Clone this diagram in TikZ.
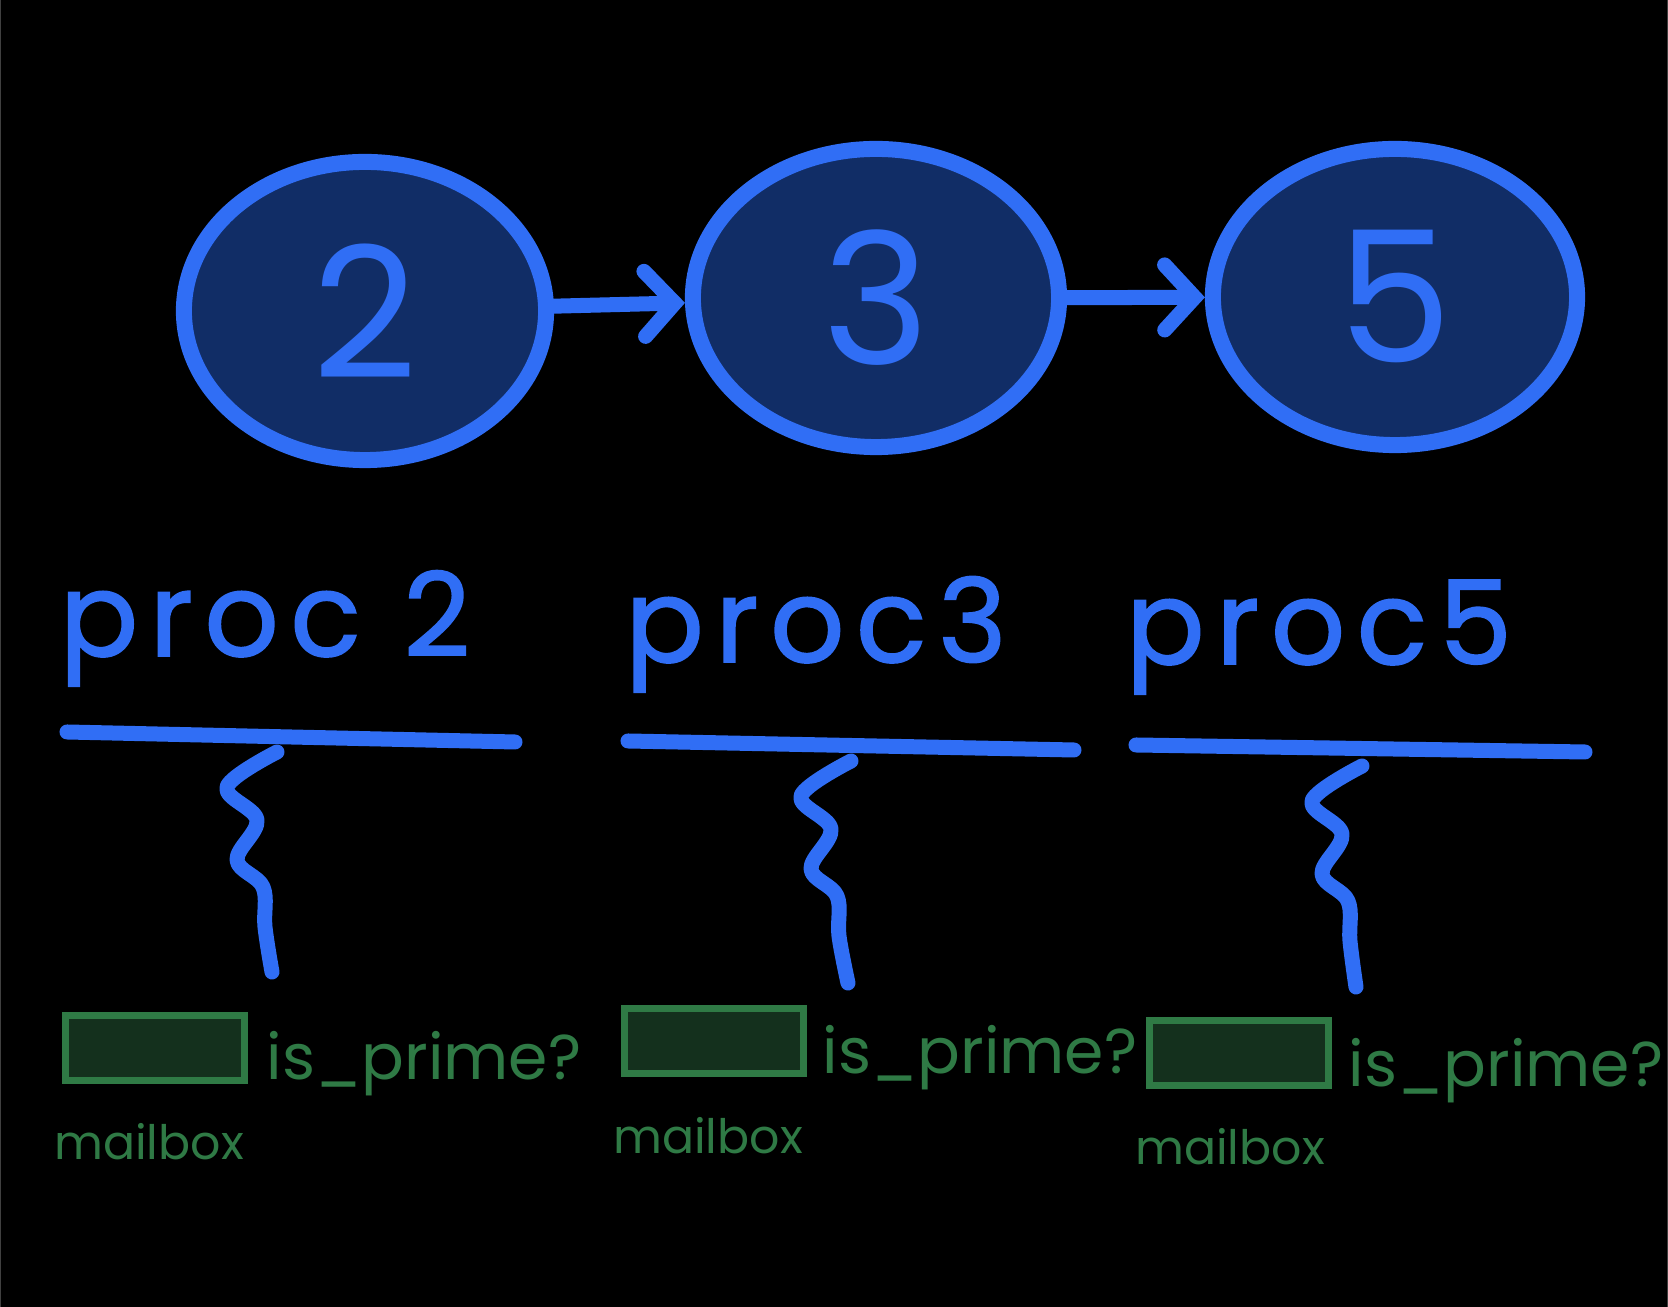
\documentclass[tikz,border=0pt]{standalone}
\usepackage{fontspec}
\setmainfont{Poppins}
\usetikzlibrary{shapes.geometric,arrows.meta,positioning}

\definecolor{penblue}{RGB}{48,110,245}
\definecolor{navyfill}{RGB}{17,45,102}
\definecolor{pengreen}{RGB}{47,122,69}
\definecolor{boxfill}{RGB}{20,48,29}

\tikzset{
  procball/.style={ellipse, draw=penblue, fill=navyfill, line width=0.16cm,
    inner sep=0pt, text=penblue, font=\fontsize{52}{52}\selectfont},
  sendline/.style={draw=penblue, line width=0.15cm, line cap=round,
    -{Straight Barb[length=3mm,width=6.5mm,line cap=round]}},
  proclabel/.style={text=penblue, anchor=base,
    font=\fontsize{33}{33}\selectfont\addfontfeatures{LetterSpace=10,FakeBold=1.5}},
  bar/.style={draw=penblue, line width=0.15cm, line cap=round},
  wire/.style={draw=penblue, line width=0.15cm, line cap=round, line join=round},
  mailbox/.style={rectangle, draw=pengreen, fill=boxfill, line width=0.07cm,
    minimum width=1.79cm, minimum height=0.64cm, inner sep=0pt},
  greentext/.style={text=pengreen, anchor=base, inner sep=0pt}
}

\begin{document}
\begin{tikzpicture}[x=0.01cm, y=-0.01cm]
    % Hintergrund
    \fill[black] (0,0) rectangle (1668,1307);
    \useasboundingbox (0,0) rectangle (1668,1307);
    \draw[black!75, line width=0.4pt] (0.2,0) -- (0.2,1307);
    \draw[black!75, line width=0.4pt] (1667.8,0) -- (1667.8,1307);

    % Prozesse als Kette
    \node[procball, minimum width=3.62cm, minimum height=2.98cm] (p2) at (365,311) {2};
    \node[procball, minimum width=3.66cm, minimum height=2.98cm] (p3) at (876,298) {3};
    \node[procball, minimum width=3.64cm, minimum height=2.96cm] (p5) at (1395,297) {5};

    \draw[sendline] (p2) -- (p3);
    \draw[sendline] (p3) -- (p5);

    % Beschriftung der Prozesse
    \node[proclabel] (l2) at (265,656) {proc 2};
    \node[proclabel] (l3) at (816,662) {proc3};
    \node[proclabel] (l5) at (1319,664) {proc5};

    \coordinate (u2a) at (67,732);
    \coordinate (u2b) at (515,742);
    \coordinate (u3a) at (628,741);
    \coordinate (u3b) at (1074,750);
    \coordinate (u5a) at (1136,745);
    \coordinate (u5b) at (1585,752);

    \draw[bar] (u2a) -- (u2b);
    \draw[bar] (u3a) -- (u3b);
    \draw[bar] (u5a) -- (u5b);

    % Leitungen zur Mailbox
    \coordinate (s2) at (277,752);
    \coordinate (s3) at (851,761);
    \coordinate (s5) at (1362,766);

    \draw[wire, shift={(s2)}] plot[smooth, tension=0.6] coordinates
      {(0,0) (-50,35) (-20,68) (-40,108) (-14,135) (-12,175) (-5,220)};
    \draw[wire, shift={(s3)}] plot[smooth, tension=0.6] coordinates
      {(0,0) (-50,35) (-20,68) (-40,108) (-14,135) (-12,175) (-3,222)};
    \draw[wire, shift={(s5)}] plot[smooth, tension=0.6] coordinates
      {(0,0) (-50,35) (-20,68) (-40,108) (-14,135) (-12,175) (-6,221)};

    % Mailboxen
    \node[mailbox] (m2) at (155,1048) {};
    \node[mailbox] (m3) at (714,1041) {};
    \node[mailbox] (m5) at (1239,1053) {};

    \node[greentext, font=\fontsize{18}{18}\selectfont] (q2) at (424,1080) {is\_prime?};
    \node[greentext, font=\fontsize{18}{18}\selectfont] (q3) at (980,1074) {is\_prime?};
    \node[greentext, font=\fontsize{18}{18}\selectfont] (q5) at (1506,1087) {is\_prime?};

    \node[greentext, font=\fontsize{13.5}{13.5}\selectfont] (n2) at (149,1160) {mailbox};
    \node[greentext, font=\fontsize{13.5}{13.5}\selectfont] (n3) at (708,1154) {mailbox};
    \node[greentext, font=\fontsize{13.5}{13.5}\selectfont] (n5) at (1230,1165) {mailbox};
\end{tikzpicture}
\end{document}
